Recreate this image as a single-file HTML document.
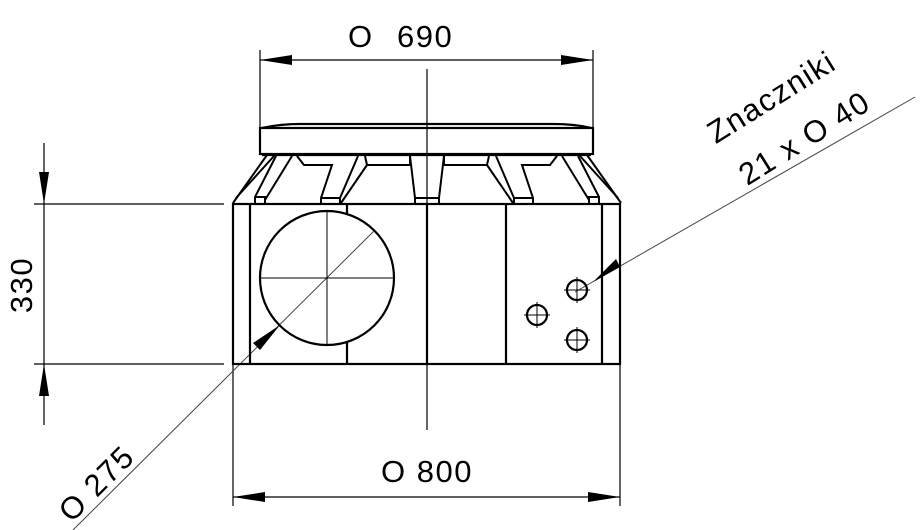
<!DOCTYPE html>
<html><head><meta charset="utf-8"><style>
html,body{margin:0;padding:0;background:#fff;}
svg{display:block;}
text{font-family:"Liberation Sans",sans-serif;fill:#000;letter-spacing:1.5px;}
</style></head><body>
<svg width="921" height="530" viewBox="0 0 921 530" xmlns="http://www.w3.org/2000/svg">
<g stroke="#000" fill="none" stroke-width="1.2">
<line x1="260" y1="50" x2="260" y2="128"/>
<line x1="593" y1="50" x2="593" y2="128"/>
<line x1="260" y1="60" x2="593" y2="60"/>
<line x1="427" y1="69" x2="427" y2="430"/>
<line x1="233" y1="364" x2="233" y2="506"/>
<line x1="620" y1="364" x2="620" y2="506"/>
<line x1="233" y1="497" x2="620" y2="497"/>
<line x1="34" y1="204" x2="224" y2="204"/>
<line x1="34" y1="364" x2="224" y2="364"/>
<line x1="44" y1="143" x2="44" y2="425"/>
</g>
<g fill="#000">
<polygon points="260,60 292,55 292,65"/>
<polygon points="593,60 561,55 561,65"/>
<polygon points="233,497 265,492 265,502"/>
<polygon points="620,497 588,492 588,502"/>
<polygon points="44,204 39,172 49,172"/>
<polygon points="44,364 39,396 49,396"/>
</g>
<g stroke="#444" stroke-width="1" fill="none">
<line x1="73" y1="530" x2="374" y2="231"/>
<line x1="915" y1="97" x2="575" y2="292"/>
</g>
<g fill="#000">
<polygon points="280,325 253,343 260,350"/>
<polygon points="593,282 620,267 616,259"/>
</g>
<g stroke="#000" fill="none" stroke-width="2.2">
<rect x="233" y="204" width="387" height="160"/>
<line x1="250" y1="204" x2="250" y2="364"/>
<line x1="347" y1="204" x2="347" y2="214"/>
<line x1="347" y1="342" x2="347" y2="364"/>
<line x1="427" y1="204" x2="427" y2="364"/>
<line x1="506" y1="204" x2="506" y2="364"/>
<line x1="602" y1="204" x2="602" y2="364"/>
<circle cx="327" cy="278" r="67"/>
<rect x="260" y="128" width="333" height="26"/>
<path d="M262,128 Q280,124 300,124 L553,124 Q575,124 591,128"/>
<line x1="262" y1="155" x2="591" y2="155"/>
<circle cx="577" cy="290" r="10"/>
<circle cx="537" cy="315" r="10"/>
<circle cx="577" cy="340" r="10"/>
</g>
<g stroke="#000" stroke-width="1">
<line x1="260" y1="278" x2="394" y2="278"/>
<line x1="327" y1="211" x2="327" y2="345"/>
<line x1="564" y1="290" x2="590" y2="290"/><line x1="577" y1="277" x2="577" y2="303"/>
<line x1="524" y1="315" x2="550" y2="315"/><line x1="537" y1="302" x2="537" y2="328"/>
<line x1="564" y1="340" x2="590" y2="340"/><line x1="577" y1="327" x2="577" y2="353"/>
</g>
<g id="half" stroke="#000" fill="none" stroke-width="2">
<line x1="233" y1="203" x2="267" y2="155"/>
<line x1="236" y1="198" x2="274" y2="156"/>
<polyline points="276,156 255,197 255,203"/>
<polyline points="255,197 265,197 265,203"/>
<polyline points="292,156 265,200"/>
<polyline points="297,156 304,165 332,165 321,198 321,203"/>
<polyline points="321,198 340,198 340,203"/>
<polyline points="358,156 340,198"/>
<polyline points="365,156 367,165 410,165 410,156"/>
<polyline points="410,156 415,198 415,203"/>
<line x1="367" y1="165" x2="341" y2="203"/>
<line x1="415" y1="198" x2="427" y2="198"/>
</g>
<use href="#half" transform="translate(854,0) scale(-1,1)"/>
<text x="348" y="47" font-size="31">O</text>
<text x="397" y="47" font-size="31">690</text>
<text x="381" y="482" font-size="31">O 800</text>
<text transform="translate(32,285) rotate(-90)" text-anchor="middle" font-size="31">330</text>
<text transform="translate(104,491) rotate(-45)" text-anchor="middle" font-size="31">O 275</text>
<text transform="translate(777,106) rotate(-32)" text-anchor="middle" font-size="31">Znaczniki</text>
<text transform="translate(810,147) rotate(-32)" text-anchor="middle" font-size="31">21 x O 40</text>
</svg>
</body></html>
